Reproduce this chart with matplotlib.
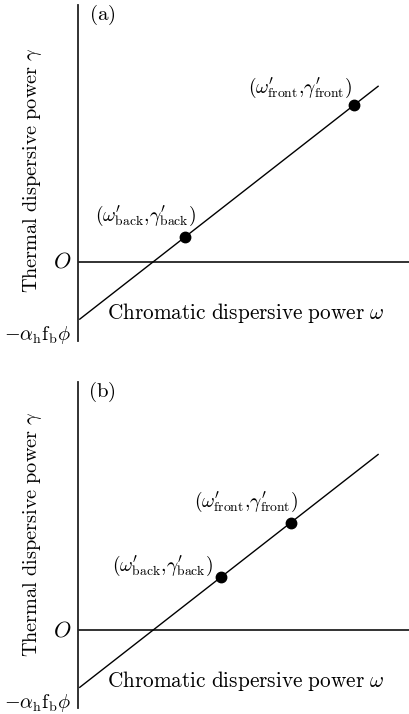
import matplotlib
matplotlib.use("Agg")
import matplotlib.pyplot as plt
import numpy as np

plt.rcParams["mathtext.fontset"] = "cm"
plt.rcParams["font.family"] = ["DejaVu Serif"]

# Shared linear relation gamma = slope * omega - offset (offset = alpha_h f_b phi)
slope = 0.78
offset = 1.0
omega_line = [0.03, 5.13]

# Marked points on the line for each panel
panel_tags = ["a", "b"]
omega_back = [1.83, 2.44]
omega_front = [4.72, 3.64]

fig = plt.figure(figsize=(4.09, 7.14), dpi=100)
W, H = 409, 714
PX = 58.5  # pixels per data unit

# axes boxes in pixels: (left, top, right, bottom)
boxes = [(78, 5, 409, 341), (78, 382, 409, 708)]
ylims = [(-1.35, 4.39), (-1.33, 4.24)]
ylabel_pos = [1.57, 1.64]
# label centres relative to each point, in data units: (back, front)
label_offsets = [
    ((-0.68, 0.36), (-0.92, 0.29)),
    ((-1.0, 0.19), (-0.77, 0.36)),
]

for i in range(2):
    l, t, r, b = boxes[i]
    ax = fig.add_axes([l / W, 1 - b / H, (r - l) / W, (b - t) / H])
    ax.set_xlim(0, (r - l) / PX)
    ax.set_ylim(*ylims[i])
    for s in ["top", "right", "bottom"]:
        ax.spines[s].set_visible(False)
    ax.spines["left"].set_linewidth(1.3)
    ax.spines["left"].set_color("#222222")
    ax.set_xticks([])
    ax.set_yticks([])
    ax.patch.set_alpha(0)
    ax.axhline(0, color="#222222", lw=1.3)

    xs = np.array(omega_line)
    ax.plot(xs, slope * xs - offset, color="black", lw=1.0)

    pts_x = np.array([omega_back[i], omega_front[i]])
    pts_y = slope * pts_x - offset
    ax.plot(pts_x, pts_y, "o", color="black", ms=7.5)

    (bdx, bdy), (fdx, fdy) = label_offsets[i]
    ax.text(pts_x[0] + bdx, pts_y[0] + bdy,
            r"$(\omega^{\prime}_{\rm back},\!\gamma^{\prime}_{\rm back})$",
            ha="center", va="center", fontsize=14)
    ax.text(pts_x[1] + fdx, pts_y[1] + fdy,
            r"$(\omega^{\prime}_{\rm front},\!\gamma^{\prime}_{\rm front})$",
            ha="center", va="center", fontsize=14)

    ax.text(24 / (r - l), 1 - 10 / (b - t), r"$(\mathrm{%s})$" % panel_tags[i],
            transform=ax.transAxes, ha="center", va="center", fontsize=15)

    ax.text(2.86, -0.87, r"$\mathrm{Chromatic\ dispersive\ power}\ \omega$",
            ha="center", va="center", fontsize=15.3)
    ax.text(-0.12, 0, r"$O$", ha="right", va="center", fontsize=16)
    ax.text(-0.12, -1.25, r"$-\alpha_{\rm h}{\rm f}_{\rm b}\phi$",
            ha="right", va="center", fontsize=14.5)
    ax.text(-45 / PX, ylabel_pos[i],
            r"$\mathrm{Thermal\ dispersive\ power}\ \gamma$",
            ha="center", va="center", rotation=90, fontsize=14.6)
    for t_ in ax.texts:
        t_.set_clip_on(False)

fig.savefig("out.png", dpi=100)
